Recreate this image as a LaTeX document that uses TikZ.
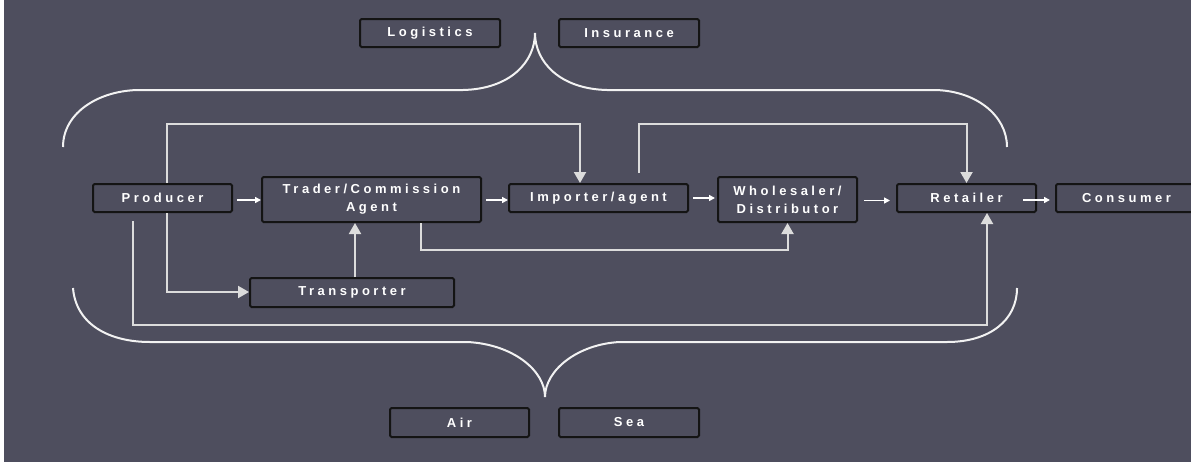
\documentclass[tikz,border=0pt]{standalone}
\usepackage{fontspec}
\setmainfont{Liberation Sans}
\newfontfamily\boxfont{Liberation Sans}[LetterSpace=27]
\usetikzlibrary{arrows.meta,calc}
\definecolor{bg}{HTML}{4E4E5E}
\definecolor{linec}{HTML}{DCDCDC}
\definecolor{bracec}{HTML}{F2F2F2}
\begin{document}
\begin{tikzpicture}[x=1pt,y=-1pt,
  box/.style={draw=black!92, line width=2pt, fill=bg, rounded corners=1.5pt, inner sep=0pt,
    align=center, text=white, font=\boxfont\bfseries\fontsize{13}{18}\selectfont},
  conn/.style={draw=linec, line width=2pt},
  bigarrow/.style={conn, -{Triangle[length=11pt,width=12pt]}},
  smallarrow/.style={draw=white, line width=1.5pt, -{Triangle[length=6pt,width=6pt]}},
  bracel/.style={draw=bracec, line width=2pt}]
\useasboundingbox (0,0) rectangle (1191,463);
\fill[white] (0,0) rectangle (1191,463);
\fill[bg] (4,0) rectangle (1191,461.5);
\clip (0,0) rectangle (1191,463);

% braces
\draw[bracel] (63,147) .. controls (63,112) and (100,90) .. (140,90) -- (463,90)
  .. controls (510,89) and (535,62) .. (535,33)
  .. controls (535,62) and (560,89) .. (607,90) -- (933,90)
  .. controls (975,90) and (1007,115) .. (1007,147);
\draw[bracel] (73,288) .. controls (76,325) and (110,342) .. (150,342) -- (467,342)
  .. controls (512,344) and (545,370) .. (545,397)
  .. controls (545,370) and (578,344) .. (620,342) -- (947,342)
  .. controls (990,342) and (1017,320) .. (1017,288);

\coordinate (topline) at (0,124);
\coordinate (lowline) at (0,250);
\coordinate (bottomline) at (0,325);
\coordinate (transline) at (0,292);

% nodes
\node[box, minimum width=140, minimum height=28] (logistics) at (430,33) {Logistics};
\node[box, minimum width=140, minimum height=28] (insurance) at (629,33) {Insurance};
\node[box, minimum width=139, minimum height=28] (producer) at (162.5,198) {Producer};
\node[box, minimum width=219, minimum height=45] (trader) at (371.5,199.5) {Trader/Commission\\Agent};
\node[box, minimum width=179, minimum height=28] (importer) at (598.5,198) {Importer/agent};
\node[box, minimum width=139, minimum height=45] (wholesaler) at (787.5,199.5) {Wholesaler/\\Distributor};
\node[box, minimum width=139, minimum height=28] (retailer) at (966.5,198) {Retailer};
\node[box, minimum width=141, minimum height=28] (consumer) at (1126.5,198) {Consumer};
\node[box, minimum width=204, minimum height=29] (transporter) at (352,292.5) {Transporter};
\node[box, minimum width=139, minimum height=29] (air) at (459.5,422.5) {Air};
\node[box, minimum width=140, minimum height=29] (sea) at (629,422.5) {Sea};

% connectors
\draw[bigarrow] ([xshift=4.5pt]producer.north) -- ([xshift=4.5pt]producer.north |- topline)
  -| ([xshift=-18.5pt]importer.north);
\draw[bigarrow] ([xshift=4.5pt]producer.south) -- ([xshift=4.5pt]producer.south |- transline)
  -- (transporter.west |- transline);
\draw[bigarrow] ([xshift=40.5pt,yshift=10pt]importer.north) -- ([xshift=40.5pt]importer.north |- topline)
  -| (retailer.north);
\draw[bigarrow] ([xshift=3pt]transporter.north) -- ([xshift=3pt]transporter.north |- trader.south);
\draw[bigarrow] ([xshift=49.5pt]trader.south) -- ([xshift=49.5pt]trader.south |- lowline)
  -| (wholesaler.south);
\draw[bigarrow] ([xshift=-29.5pt,yshift=-8pt]producer.south) -- ([xshift=-29.5pt]producer.south |- bottomline)
  -| ([xshift=20.5pt]retailer.south);

\draw[smallarrow] ([xshift=4pt,yshift=-2pt]producer.east) -- ([yshift=-2pt]trader.west |- producer.east);
\draw[smallarrow] ([xshift=4pt,yshift=-0.5pt]trader.east) -- ([yshift=-2pt]importer.west);
\draw[smallarrow] ([xshift=4pt]importer.east) -- ([xshift=-2pt]wholesaler.west |- importer.east);
\draw[smallarrow] ([xshift=6pt,yshift=-1pt]wholesaler.east) -- ([xshift=-6pt,yshift=-2.5pt]retailer.west);
\draw[smallarrow] ([xshift=-14pt,yshift=-2pt]retailer.east) -- ([xshift=-5pt,yshift=-2pt]consumer.west);
\end{tikzpicture}
\end{document}
